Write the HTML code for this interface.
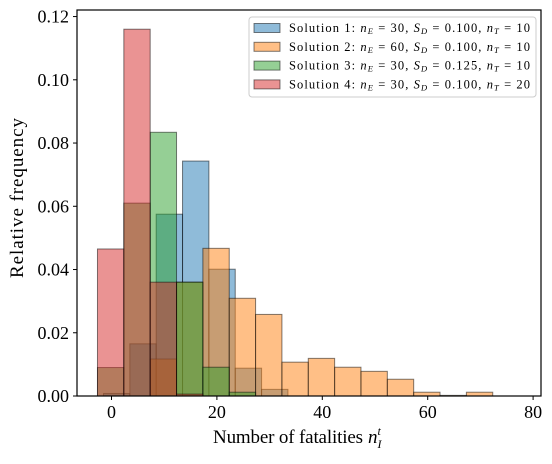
<!DOCTYPE html>
<html><head><meta charset="utf-8"><style>
body{margin:0;background:#fff;}
svg text{font-family:"Liberation Serif",serif;fill:#000;}
</style></head><body>
<svg id="chart" width="552" height="459" viewBox="0 0 552 459" xmlns="http://www.w3.org/2000/svg">
<g id="bars"></g>
<g id="axes"></g>
</svg>
<script>
// bin left edges (x units) and values
const redStart = -2.66;
const redValues = [0.0465, 0.116, 0.036, 0.0006];
const orangeStart = -2.66;
const orangeValues = [0, 0, 0.0117, 0.036, 0.0467, 0.0309, 0.0258, 0.0107, 0.0119, 0.0091, 0.0078, 0.0053, 0.0012, 0.0002, 0.0012];
const blueStart = -1.52;
const blueValues = [0.0008, 0.0165, 0.0575, 0.0743, 0.0401, 0.0088, 0.0021];
const greenStart = -2.66;
const greenValues = [0.009, 0.061, 0.0834, 0.036, 0.0091, 0.0012];
const binWidth = 5;
const xTicks = [0, 20, 40, 60, 80];
const yTicks = [0, 0.02, 0.04, 0.06, 0.08, 0.10, 0.12];
const legendLabels = ["Solution 1: ", "Solution 2: ", "Solution 3: ", "Solution 4: "];
const legendParams = [["30","0.100","10"],["60","0.100","10"],["30","0.125","10"],["30","0.100","20"]];

const L=77, R=541, T=10, B=396;
const X = v => 111.5 + v*5.27;
const Y = v => 396 - v*3162;
const NS="http://www.w3.org/2000/svg";
function mk(tag, attrs, parent){const e=document.createElementNS(NS,tag);for(const k in attrs)e.setAttribute(k,attrs[k]);parent.appendChild(e);return e;}
const bars=document.getElementById('bars'), axes=document.getElementById('axes');
const series=[["blue",blueStart,blueValues,"#1f77b4"],["orange",orangeStart,orangeValues,"#ff7f0e"],["green",greenStart,greenValues,"#2ca02c"],["red",redStart,redValues,"#d62728"]];
series.forEach(([nm,start,vals,col])=>{
  vals.forEach((v,i)=>{
    if(v<=0) return;
    const x0=X(start+i*binWidth), x1=X(start+(i+1)*binWidth);
    const r=mk('rect',{x:x0,y:Y(v),width:x1-x0,height:B-Y(v),fill:col,'fill-opacity':0.5,stroke:'#000','stroke-opacity':0.5,'stroke-width':1},bars);
    
    
  });
});
const frame=mk('rect',{x:L,y:T,width:R-L,height:B-T,fill:'none',stroke:'#000','stroke-width':1.2},axes);


xTicks.forEach(t=>{
  mk('line',{x1:X(t),x2:X(t),y1:B,y2:B+4,stroke:'#000'},axes);
  const tx=mk('text',{x:X(t),y:B+22,'font-size':18,'text-anchor':'middle'},axes);
  tx.textContent=t;
  
  
});
yTicks.forEach(t=>{
  mk('line',{x1:L-4,x2:L,y1:Y(t),y2:Y(t),stroke:'#000'},axes);
  const tx=mk('text',{x:L-8,y:Y(t)+6,'font-size':18,'text-anchor':'end'},axes);
  tx.textContent=t.toFixed(2);
  
  
});
const xt=mk('text',{x:213,y:443,'font-size':19,textLength:150,lengthAdjust:'spacing'},axes);
xt.textContent='Number of fatalities';


const xt2=mk('text',{x:368,y:443,'font-size':19},axes);
xt2.innerHTML='<tspan font-style="italic">n</tspan><tspan font-size="12" font-style="italic" dy="5">I</tspan><tspan font-size="12" font-style="italic" dy="-13" dx="-4">t</tspan>';


const yt=mk('text',{x:0,y:0,'font-size':19,'text-anchor':'middle',textLength:160,lengthAdjust:'spacing',transform:'translate(23,198) rotate(-90)'},axes);
yt.textContent='Relative frequency';


const lg=mk('g',{},axes);


mk('rect',{x:249,y:17,width:287,height:80,rx:3,fill:'#fff','fill-opacity':0.8,stroke:'#ccc'},lg);
const cols=["#1f77b4","#ff7f0e","#2ca02c","#d62728"];
legendLabels.forEach((lab,i)=>{
  const y=28+i*18.8;
  const p=mk('rect',{x:254,y:y-4.5,width:26,height:9,fill:cols[i],'fill-opacity':0.5,stroke:'#000','stroke-opacity':0.5},lg);
  
  
  const [ne,sd,nt]=legendParams[i];
  const t=mk('text',{x:289,y:y+4,'font-size':12.5,textLength:241,lengthAdjust:'spacing'},lg);
  t.innerHTML=lab+'<tspan font-style="italic">n</tspan><tspan font-size="8.5" font-style="italic" dy="2">E</tspan><tspan dy="-2"> = '+ne+', </tspan><tspan font-style="italic">S</tspan><tspan font-size="8.5" font-style="italic" dy="2">D</tspan><tspan dy="-2"> = '+sd+', </tspan><tspan font-style="italic">n</tspan><tspan font-size="8.5" font-style="italic" dy="2">T</tspan><tspan dy="-2"> = '+nt+'</tspan>';
  
  
});
</script>
</body></html>
